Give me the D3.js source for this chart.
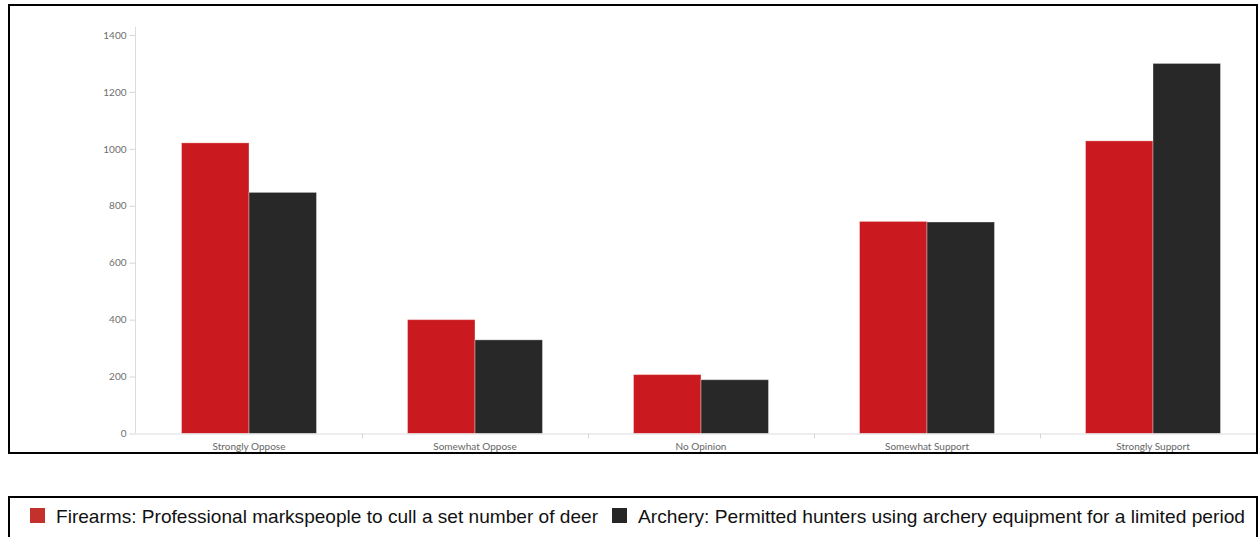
<!DOCTYPE html>
<html>
<head>
<meta charset="utf-8">
<script src="https://cdn.jsdelivr.net/npm/d3@7"></script>
<style>
  body { margin: 0; background: #fff; }
  svg { display: block; }
</style>
</head>
<body>
<svg id="chart"></svg>
<script>
// categories along the x axis
let categories = ['Strongly Oppose', 'Somewhat Oppose', 'No Opinion', 'Somewhat Support', 'Strongly Support'];
// the two series
let seriesNames = [
    'Firearms: Professional markspeople to cull a set number of deer',
    'Archery: Permitted hunters using archery equipment for a limited period'
];
let firearms = [1021, 400, 207, 745, 1028];
let archery = [847, 329, 189, 743, 1300];
let yTicks = [0, 200, 400, 600, 800, 1000, 1200, 1400];

let colors = ['#cb1a1f', '#282828'];
let legendColors = ['#c4302b', '#262626'];

let width = 1259, height = 537;

let svg = d3.select('#chart')
    .attr('width', width)
    .attr('height', height);

svg.append('defs').append('clipPath')
    .attr('id', 'frameClip')
    .append('rect')
    .attr('x', 10).attr('y', 6)
    .attr('width', 1246).attr('height', 446);

let rows = categories.map(function (c, i) {
    return {category: c, values: [firearms[i], archery[i]]};
});

let yScale = d3.scaleLinear()
    .domain([0, 1428])
    .range([433.5, 27]);

let xScale = d3.scaleBand()
    .domain(categories)
    .range([136, 1266])
    .padding(0);

let xSub = d3.scaleBand()
    .domain([0, 1])
    .range([0, xScale.bandwidth()])
    .paddingInner(0)
    .paddingOuter(0.674);

let plot = svg.append('g').attr('clip-path', 'url(#frameClip)');

// y axis
let yAxis = plot.append('g')
    .attr('transform', 'translate(135.5,0)')
    .call(d3.axisLeft(yScale).tickValues(yTicks).tickFormat(d3.format('d'))
        .tickSize(6).tickPadding(3).tickSizeOuter(0));
yAxis.select('.domain').attr('stroke', '#dcdcdc').attr('d', 'M0,' + yScale(1428) + 'V' + yScale(0));
yAxis.selectAll('.tick line').attr('stroke', '#d6d6d6');
yAxis.selectAll('.tick text')
    .attr('fill', '#6e6e6e')
    .style('font-family', 'Lato, "Open Sans", sans-serif')
    .style('font-size', '10px');

// bars
let groups = plot.selectAll('g.group')
    .data(rows)
    .enter()
    .append('g')
    .attr('class', 'group')
    .attr('transform', function (d) { return 'translate(' + xScale(d.category) + ',0)'; });

groups.selectAll('rect')
    .data(function (d) { return d.values; })
    .enter()
    .append('rect')
    .attr('x', function (d, i) { return xSub(i); })
    .attr('y', function (d) { return yScale(d); })
    .attr('width', xSub.bandwidth())
    .attr('height', function (d) { return yScale(0) - yScale(d); })
    .attr('fill', function (d, i) { return colors[i]; })
    .attr('stroke', 'rgba(255,255,255,0.35)')
    .attr('stroke-width', 1);

// x axis
let xAxis = plot.append('g')
    .attr('transform', 'translate(0,' + yScale(0) + ')')
    .call(d3.axisBottom(xScale).tickSize(0).tickPadding(9));
xAxis.select('.domain').attr('stroke', '#dcdcdc').attr('d', 'M135.5,0.5H1259');
xAxis.selectAll('.tick text')
    .attr('fill', '#666')
    .style('font-family', 'Lato, "Open Sans", sans-serif')
    .style('font-size', '10px');

// small dividers between categories
plot.selectAll('line.divider')
    .data(categories.slice(1))
    .enter()
    .append('line')
    .attr('class', 'divider')
    .attr('x1', function (d) { return Math.round(xScale(d)) + 0.5; })
    .attr('x2', function (d) { return Math.round(xScale(d)) + 0.5; })
    .attr('y1', yScale(0))
    .attr('y2', yScale(0) + 5)
    .attr('stroke', '#d6d6d6');

// frames
svg.append('rect')
    .attr('x', 9).attr('y', 5)
    .attr('width', 1248).attr('height', 448)
    .attr('fill', 'none')
    .attr('stroke', '#000')
    .attr('stroke-width', 2);

svg.append('rect')
    .attr('x', 9).attr('y', 497)
    .attr('width', 1248).attr('height', 60)
    .attr('fill', 'none')
    .attr('stroke', '#000')
    .attr('stroke-width', 2);

// legend
let legendX = [30, 612];
let legendW = [542, 607];
let legend = svg.selectAll('g.legend')
    .data(seriesNames)
    .enter()
    .append('g')
    .attr('class', 'legend')
    .attr('transform', function (d, i) { return 'translate(' + legendX[i] + ',508)'; });

legend.append('rect')
    .attr('width', 15)
    .attr('height', 15)
    .attr('fill', function (d, i) { return legendColors[i]; });

legend.append('text')
    .attr('x', 26)
    .attr('y', 15)
    .attr('fill', '#111')
    .style('font-family', '"Liberation Sans Narrow", "Liberation Sans", Arial, sans-serif')
    .style('font-size', '19px')
    .attr('textLength', function (d, i) { return legendW[i]; })
    .attr('lengthAdjust', 'spacingAndGlyphs')
    .text(function (d) { return d; });
</script>
</body>
</html>
